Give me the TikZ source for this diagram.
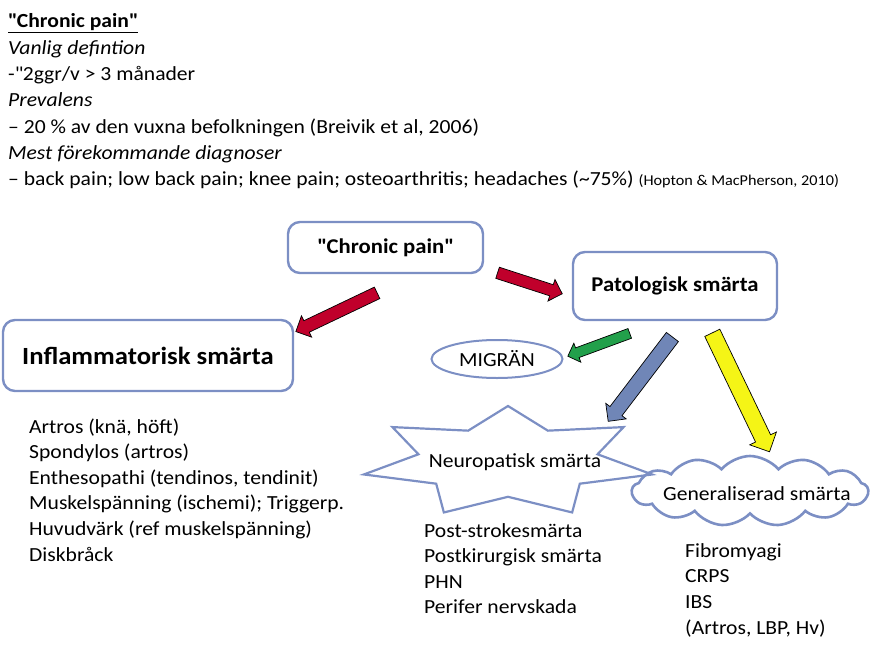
\documentclass[tikz,border=0pt]{standalone}
\usepackage{fontspec}
\setmainfont{Carlito}[FakeStretch=1.08]
\usetikzlibrary{shapes.geometric,shapes.symbols,shapes.arrows}
\definecolor{painEdge}{HTML}{7C8FC4}
\definecolor{painRed}{HTML}{C0002B}
\definecolor{painGreen}{HTML}{22A04B}
\definecolor{painBlue}{HTML}{7086B7}
\definecolor{painYellow}{HTML}{F5F516}

\begin{document}
\begin{tikzpicture}[
  x=1pt, y=-1pt,
  every node/.style={font=\fontsize{20}{24}\selectfont, inner sep=0pt},
  painbox/.style={draw=painEdge, line width=2.4pt, rounded corners=12pt, fill=white, font=\fontsize{21}{25}\selectfont\bfseries},
  fatarrow/.style args={#1/#2}{single arrow, draw=black, line width=0.7pt, inner xsep=0pt, inner ysep=#1, single arrow head extend=#2, sloped, allow upside down},
  line/.style={anchor=base west},
]
\useasboundingbox (0,0) rectangle (874,666);
% intro text
\foreach \t [count=\i from 0] in {{\underline{\textbf{\textquotedbl Chronic pain\textquotedbl}}},{\textit{Vanlig defintion}},{-\textquotedbl 2ggr/v > 3 månader},{\textit{Prevalens}},{– 20 \% av den vuxna befolkningen (Breivik et al, 2006)},{\textit{Mest förekommande diagnoser}},{– back pain; low back pain; knee pain; osteoarthritis; headaches (\textasciitilde75\%) {\fontsize{15}{18}\selectfont(Hopton \& MacPherson, 2010)}}}
  \node[line] (top\i) at (8, 28+26.3*\i) {\t};

% main nodes
\node[painbox, minimum width=195, minimum height=51] (cp) at (385.5,247.5) {\textquotedbl Chronic pain\textquotedbl};
\node[painbox, minimum width=204, minimum height=68] (pat) at (675,286) {Patologisk smärta};
\node[painbox, minimum width=290, minimum height=71, font=\fontsize{24.7}{30}\selectfont\bfseries] (infl) at (148,355.5) {Inflammatorisk smärta};
\node[ellipse, draw=painEdge, line width=2pt, minimum width=131, minimum height=38] (mig) at (497,359) {MIGRÄN};
\node[star, star points=7, star point ratio=1.61, minimum size=112, xscale=2.64, transform shape, draw=painEdge, line width=2.2pt] (neuro) at (508,462) {};
\node[xshift=7pt] (neurotext) at (neuro) {Neuropatisk smärta};
\node[cloud, cloud puffs=13, cloud puff arc=100, aspect=3.3, draw=painEdge, line width=2.6pt, minimum width=236, minimum height=70] (gen) at (750,491) {};
\node[xshift=7pt, yshift=-3pt] (gentext) at (gen) {Generaliserad smärta};

% block arrows
\path (cp.-41) -- (infl.9) node[fatarrow=6pt/5.5pt, fill=painRed, minimum height=90, pos=0.63] (r1) {};
\path (cp.-12) -- (pat.186) node[fatarrow=5.5pt/5.5pt, fill=painRed, minimum height=68, pos=0.49] (r2) {};
\path (pat.-109) -- (mig.1) node[fatarrow=4.8pt/5pt, fill=painGreen, minimum height=66, pos=0.62] (g1) {};
\path (pat.-75) -- (neuro.44) node[fatarrow=7.2pt/5.3pt, fill=painBlue, minimum height=106, pos=0.52] (b1) {};
\path (pat.-48) -- (gen.46) node[fatarrow=8pt/6.5pt, fill=painYellow, minimum height=132, pos=0.47] (y1) {};

% lists
\foreach \t [count=\i from 0] in {{Artros (knä, höft)},{Spondylos (artros)},{Enthesopathi (tendinos, tendinit)},{Muskelspänning (ischemi); Triggerp.},{Huvudvärk (ref muskelspänning)},{Diskbråck}}
  \node[line] (ia\i) at (29, 433+25.6*\i) {\t};
\foreach \t [count=\i from 0] in {Post-strokesmärta,Postkirurgisk smärta,PHN,Perifer nervskada}
  \node[line] (na\i) at (424, 537+25.5*\i) {\t};
\foreach \t [count=\i from 0] in {Fibromyagi,CRPS,IBS,{(Artros, LBP, Hv)}}
  \node[line] (ga\i) at (685, 557+25.7*\i) {\t};
\end{tikzpicture}
\end{document}
